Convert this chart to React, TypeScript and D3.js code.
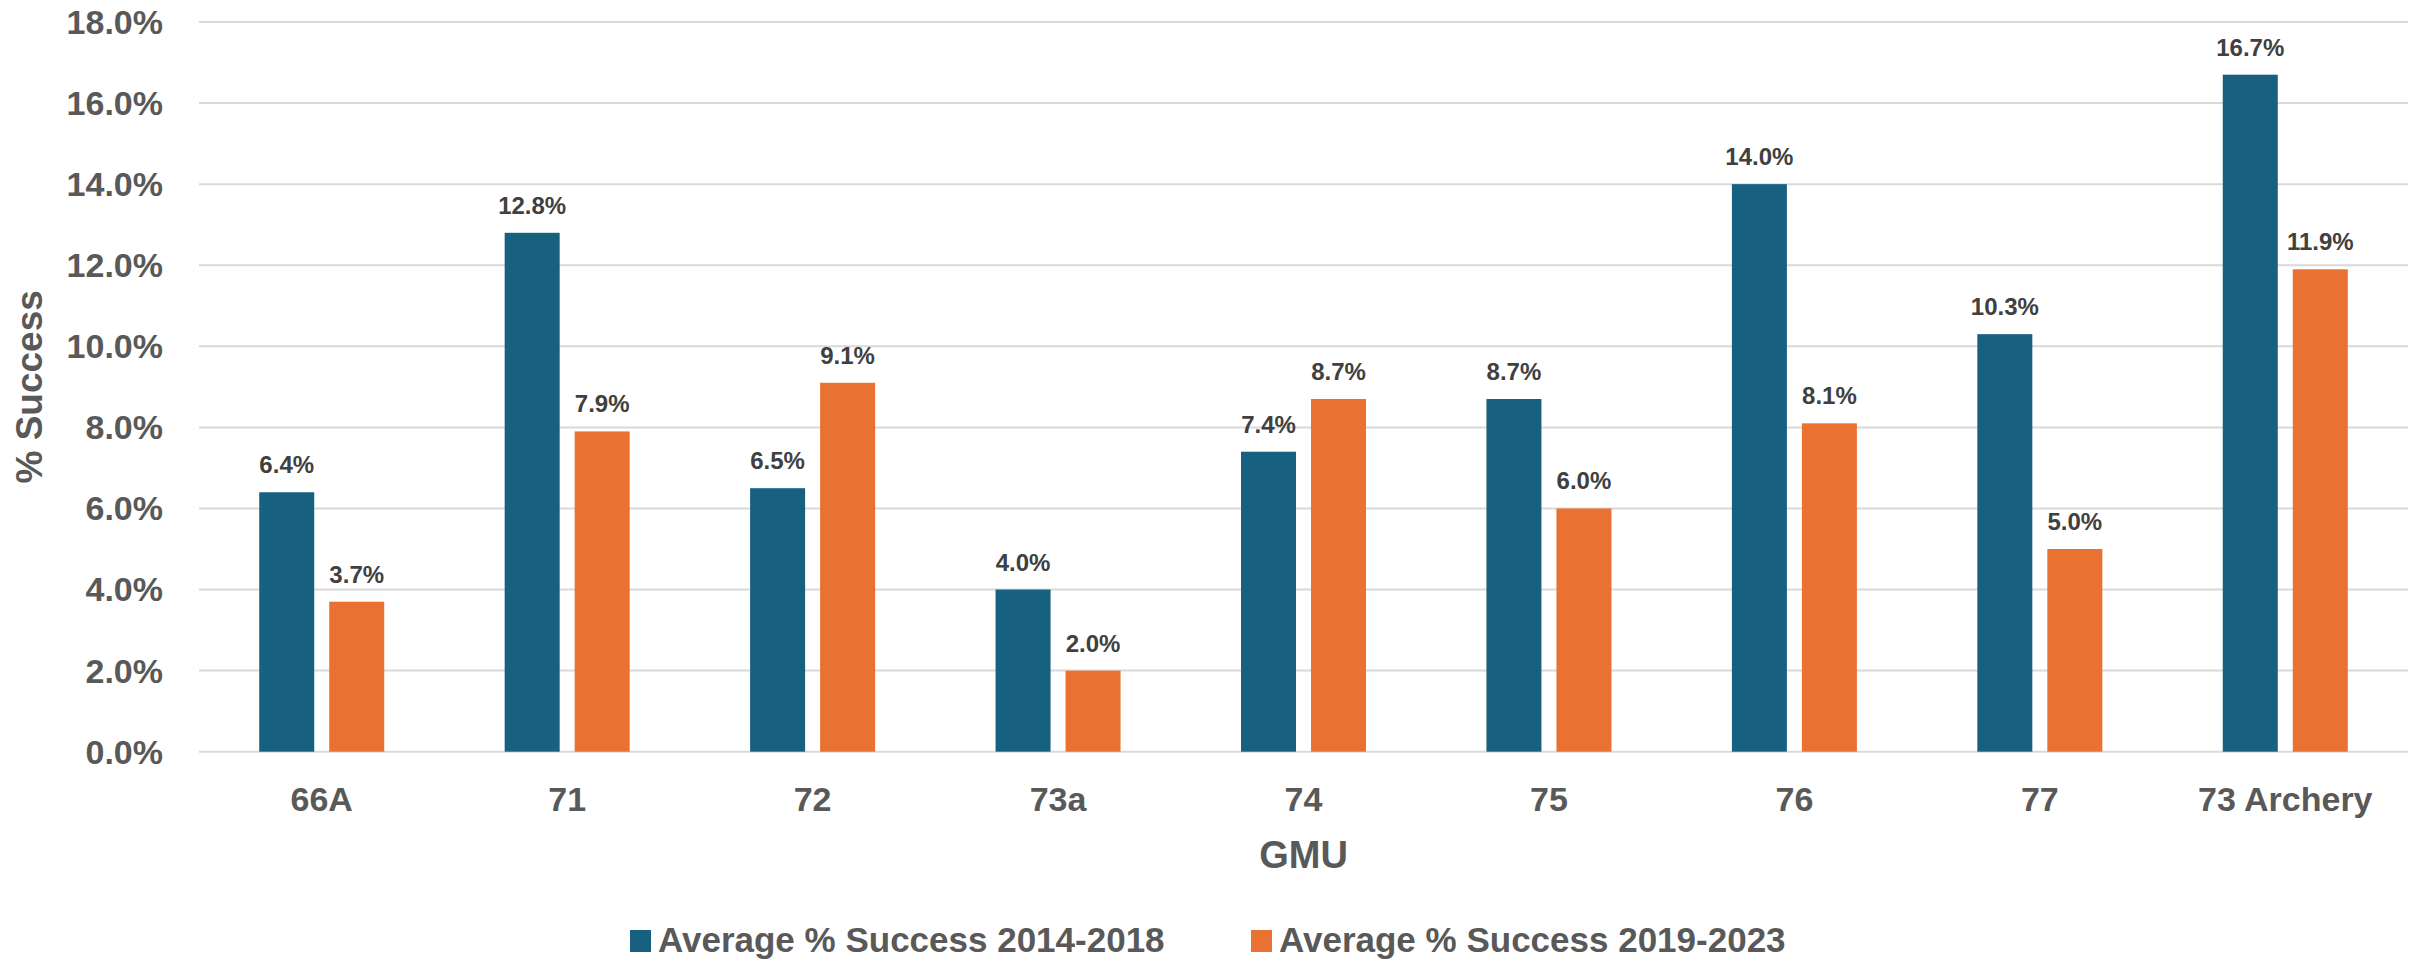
import React from "react";
import * as d3 from "d3";

const categories = ["66A", "71", "72", "73a", "74", "75", "76", "77", "73 Archery"];
const series2014_2018 = [6.4, 12.8, 6.5, 4.0, 7.4, 8.7, 14.0, 10.3, 16.7];
const series2019_2023 = [3.7, 7.9, 9.1, 2.0, 8.7, 6.0, 8.1, 5.0, 11.9];
const seriesNames = ["Average % Success 2014-2018", "Average % Success 2019-2023"];
const seriesColors = ["#17607F", "#E97132"];
const yTicks = [0, 2, 4, 6, 8, 10, 12, 14, 16, 18];

const W = 2422;
const H = 961;
const left = 199;
const right = 2408;
const top = 22;
const bottom = 751.7;
const FONT = "'Liberation Sans', Arial, Helvetica, sans-serif";

export default function App() {
  const x0 = d3.scaleBand<string>().domain(categories).range([left, right]).padding(0);
  const groupW = 125;
  const x1 = d3
    .scaleBand<number>()
    .domain([0, 1])
    .range([0, groupW])
    .paddingInner(2 - groupW / 70)
    .paddingOuter(0);
  const y = d3.scaleLinear().domain([0, 18]).range([bottom, top]);
  const seriesData = [series2014_2018, series2019_2023];

  return (
    <svg
      width={W}
      height={H}
      style={{ position: "absolute", left: 0, top: 0, display: "block", background: "#fff" }}
      fontFamily={FONT}
    >
      {yTicks.map((t) => (
        <g key={t}>
          <line x1={left} x2={right} y1={y(t)} y2={y(t)} stroke="#D9D9D9" strokeWidth={2} />
          <text
            x={163}
            y={y(t)}
            dy="0.35em"
            textAnchor="end"
            fontSize={34}
            fontWeight="bold"
            fill="#595959"
          >
            {t.toFixed(1) + "%"}
          </text>
        </g>
      ))}
      {categories.map((c, i) => {
        const cx = (x0(c) as number) + x0.bandwidth() / 2;
        const gx = cx - groupW / 2;
        return (
          <g key={c}>
            {seriesData.map((s, si) => {
              const bx = gx + (x1(si) as number);
              const bw = x1.bandwidth();
              const v = s[i];
              return (
                <g key={si}>
                  <rect x={bx} y={y(v)} width={bw} height={y(0) - y(v)} fill={seriesColors[si]} />
                  <text
                    x={bx + bw / 2}
                    y={y(v) - 19}
                    textAnchor="middle"
                    fontSize={24}
                    fontWeight="bold"
                    fill="#404040"
                  >
                    {v.toFixed(1) + "%"}
                  </text>
                </g>
              );
            })}
            <text x={cx} y={811} textAnchor="middle" fontSize={34} fontWeight="bold" fill="#595959">
              {c}
            </text>
          </g>
        );
      })}
      <text
        x={(left + right) / 2}
        y={868}
        textAnchor="middle"
        fontSize={38}
        fontWeight="bold"
        fill="#595959"
      >
        GMU
      </text>
      <text
        transform={`translate(42, ${(top + bottom) / 2}) rotate(-90)`}
        textAnchor="middle"
        fontSize={37}
        fontWeight="bold"
        fill="#595959"
      >
        % Success
      </text>
      {[630, 1251].map((lx, si) => (
        <g key={si}>
          <rect x={lx} y={930} width={21} height={22} fill={seriesColors[si]} />
          <text x={lx + 28} y={952} fontSize={35} fontWeight="bold" fill="#595959">
            {seriesNames[si]}
          </text>
        </g>
      ))}
    </svg>
  );
}
